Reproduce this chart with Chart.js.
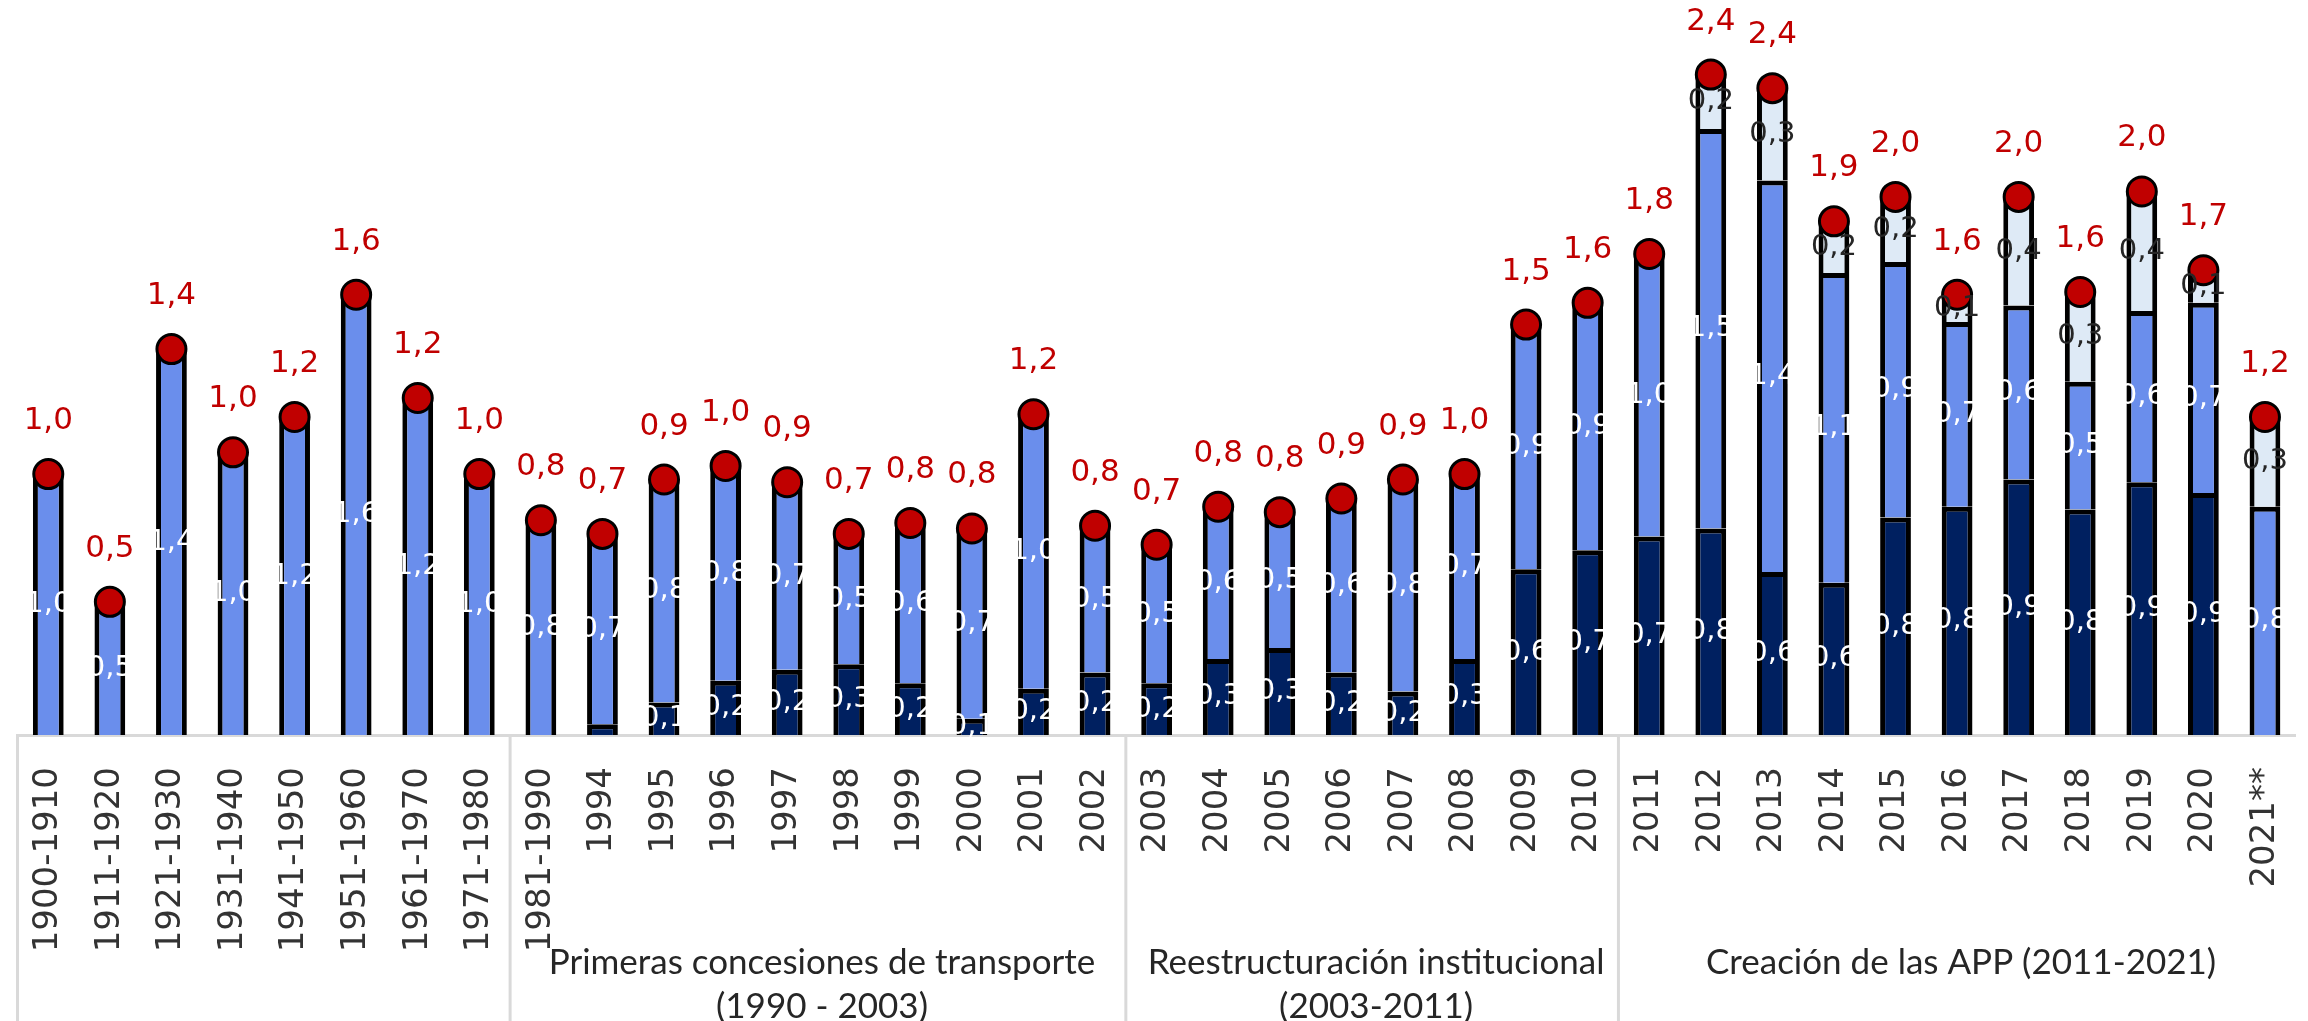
<!DOCTYPE html>
<html>
<head>
<meta charset="utf-8">
<script src="https://cdn.jsdelivr.net/npm/chart.js@4.4.1/dist/chart.umd.min.js"></script>
<style>
    html, body { margin: 0; padding: 0; background: #fff; overflow: hidden; }
    #wrap { position: relative; width: 2330px; height: 1021px; }
</style>
</head>
<body>
<div id="wrap"><canvas id="chart"></canvas></div>
<script>
// categories (x axis)
const labels = [
    '1900-1910', '1911-1920', '1921-1930', '1931-1940', '1941-1950', '1951-1960', '1961-1970', '1971-1980',
    '1981-1990', '1994', '1995', '1996', '1997', '1998', '1999', '2000', '2001', '2002',
    '2003', '2004', '2005', '2006', '2007', '2008', '2009', '2010',
    '2011', '2012', '2013', '2014', '2015', '2016', '2017', '2018', '2019', '2020', '2021**'
];

// bottom segment (dark navy)
const darkValues = [
    null, null, null, null, null, null, null, null,
    null, 0.04, 0.12, 0.20, 0.24, 0.26, 0.19, 0.06, 0.17, 0.23,
    0.19, 0.28, 0.32, 0.23, 0.16, 0.28, 0.61, 0.68,
    0.73, 0.76, 0.60, 0.56, 0.80, 0.84, 0.94, 0.83, 0.93, 0.89, null
];

// middle segment (blue)
const blueValues = [
    0.96, 0.49, 1.42, 1.04, 1.17, 1.62, 1.24, 0.96,
    0.79, 0.70, 0.82, 0.79, 0.69, 0.48, 0.59, 0.70, 1.01, 0.54,
    0.51, 0.56, 0.50, 0.64, 0.78, 0.68, 0.90, 0.91,
    1.04, 1.47, 1.44, 1.14, 0.94, 0.68, 0.64, 0.47, 0.63, 0.70, 0.84
];

// top segment (pale)
const paleValues = [
    null, null, null, null, null, null, null, null,
    null, null, null, null, null, null, null, null, null, null,
    null, null, null, null, null, null, null, null,
    null, 0.20, 0.34, 0.19, 0.24, 0.10, 0.40, 0.33, 0.44, 0.12, 0.33
];

// period groups under the axis
const groupStarts = [0, 8, 18, 26];
const groupNames = [
    [],
    ['Primeras concesiones de transporte', '(1990 - 2003)'],
    ['Reestructuración institucional', '(2003-2011)'],
    ['Creación de las APP (2011-2021)']
];

const totals = labels.map((_, i) => (darkValues[i] || 0) + (blueValues[i] || 0) + (paleValues[i] || 0));

const fmt = v => v.toFixed(1).replace('.', ',');

// segment + total labels
const valueLabels = {
    id: 'valueLabels',
    afterDatasetsDraw(chart) {
        const ctx = chart.ctx;
        ctx.save();
        ctx.textAlign = 'center';
        ctx.textBaseline = 'middle';
        ctx.font = '29px "DejaVu Sans"';
        [0, 1, 2].forEach(i => {
            const meta = chart.getDatasetMeta(i);
            const values = chart.data.datasets[i].data;
            meta.data.forEach((bar, j) => {
                const v = values[j];
                if (v == null || v < 0.05) return;
                ctx.fillStyle = i === 2 ? '#262626' : '#ffffff';
                ctx.fillText(fmt(v), bar.x, (bar.y + bar.base) / 2);
            });
        });
        const pts = chart.getDatasetMeta(3).data;
        ctx.font = '31px "DejaVu Sans"';
        ctx.fillStyle = '#C00000';
        pts.forEach((p, j) => {
            ctx.fillText(fmt(totals[j]), p.x, p.y - 53);
        });
        ctx.restore();
    }
};

// group separators and names
const groupAxis = {
    id: 'groupAxis',
    afterDraw(chart) {
        const { ctx, chartArea } = chart;
        const x = chart.scales.x;
        const edges = groupStarts.map(s => s === 0
            ? chartArea.left
            : (x.getPixelForValue(s - 1) + x.getPixelForValue(s)) / 2);
        ctx.save();
        ctx.strokeStyle = '#d9d9d9';
        ctx.lineWidth = 3;
        edges.forEach(px => {
            ctx.beginPath();
            ctx.moveTo(px, chartArea.bottom);
            ctx.lineTo(px, chart.height);
            ctx.stroke();
        });
        ctx.fillStyle = '#262626';
        ctx.font = '35px Lato';
        ctx.textAlign = 'center';
        ctx.textBaseline = 'middle';
        groupNames.forEach((lines, g) => {
            const left = edges[g];
            const right = g + 1 < edges.length ? edges[g + 1] : chartArea.right;
            lines.forEach((t, k) => {
                ctx.fillText(t, (left + right) / 2 + 4, chartArea.bottom + 228 + k * 44);
            });
        });
        ctx.restore();
    }
};

const barStyle = {
    borderColor: '#000000',
    borderWidth: 5,
    barPercentage: 0.5,
    categoryPercentage: 1,
    stack: 'bars',
    order: 2
};

new Chart(document.getElementById('chart'), {
    data: {
        labels: labels,
        datasets: [
            { type: 'bar', label: 'dark', data: darkValues, backgroundColor: '#002060', ...barStyle },
            { type: 'bar', label: 'blue', data: blueValues, backgroundColor: '#6A8EEC', ...barStyle },
            { type: 'bar', label: 'pale', data: paleValues, backgroundColor: '#DEEAF6', ...barStyle },
            {
                type: 'line', label: 'total', data: totals, showLine: false,
                pointRadius: 14.5, pointBackgroundColor: '#C00000',
                pointBorderColor: '#000000', pointBorderWidth: 3,
                stack: 'total', order: 0
            }
        ]
    },
    options: {
        responsive: true,
        maintainAspectRatio: false,
        animation: false,
        devicePixelRatio: 1,
        layout: { padding: { left: 10, right: 9, top: 0, bottom: 0 } },
        plugins: { legend: { display: false }, tooltip: { enabled: false } },
        scales: {
            x: {
                stacked: true,
                offset: true,
                grid: { display: false },
                border: { display: true, color: '#d9d9d9', width: 3 },
                ticks: {
                    autoSkip: false,
                    maxRotation: 90,
                    minRotation: 90,
                    padding: 24,
                    color: '#333333',
                    font: { family: 'DejaVu Sans', size: 34 }
                },
                afterFit(scale) { scale.height = 286; }
            },
            y: {
                stacked: true,
                display: false,
                min: 0,
                max: 2.64
            }
        }
    },
    plugins: [valueLabels, groupAxis]
});
</script>
</body>
</html>
